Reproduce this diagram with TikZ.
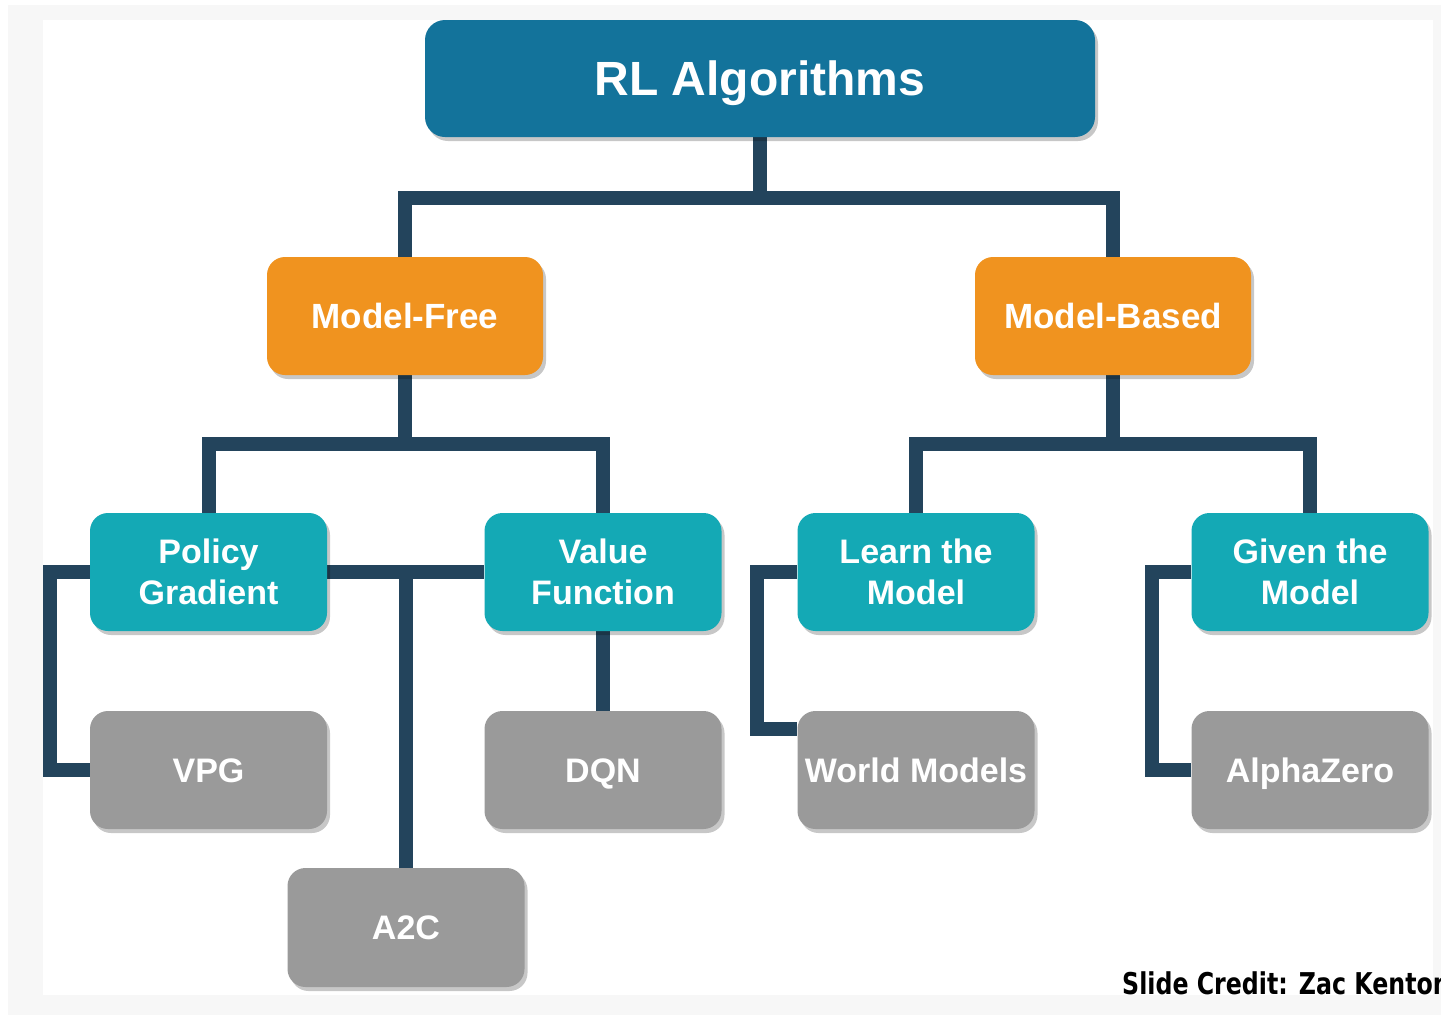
\documentclass[tikz,border=0pt]{standalone}
\usepackage{fontspec}
\setmainfont{Liberation Sans}
\newfontfamily\creditfont{DejaVu Sans}
\usetikzlibrary{shadows}
\definecolor{rootblue}{HTML}{13739B}
\definecolor{mforange}{HTML}{F0931F}
\definecolor{subteal}{HTML}{14A9B5}
\definecolor{leafgrey}{HTML}{9A9A9A}
\definecolor{linkcol}{HTML}{23445C}
\definecolor{framegrey}{HTML}{F7F7F7}
\pgfdeclarelayer{frame}
\pgfdeclarelayer{links}
\pgfsetlayers{frame,links,main}
\tikzset{
  box/.style={rounded corners=18pt, text=white, align=center,
    font=\bfseries\fontsize{34}{41}\selectfont, inner sep=0pt,
    drop shadow={shadow xshift=3pt, shadow yshift=-4pt, fill=black, opacity=0.22}},
  rootbox/.style={box, fill=rootblue, minimum width=670pt, minimum height=117pt,
    rounded corners=20pt, font=\bfseries\fontsize{48}{56}\selectfont,
    text height=34.4pt, text depth=0pt},
  familybox/.style={box, fill=mforange, minimum width=276pt, minimum height=118pt,
    font=\bfseries\fontsize{35}{41}\selectfont, text height=25pt, text depth=0pt},
  classbox/.style={box, fill=subteal, minimum width=237pt, minimum height=118pt},
  leafbox/.style={box, fill=leafgrey, minimum width=237pt, minimum height=118pt,
    text height=24.4pt, text depth=0pt},
  link/.style={draw=linkcol, line width=14pt, line join=miter}
}
\begin{document}
\begin{tikzpicture}[x=1pt, y=-1pt]
  \useasboundingbox (0,0) rectangle (1441,1015);
  % page and frame
  \begin{pgfonlayer}{frame}
    \fill[white] (0,0) rectangle (1441,1015);
    \fill[framegrey] (8,5) rectangle (1441,1015);
    \fill[white] (43,20) rectangle (1433,995);
  \end{pgfonlayer}

  % boxes
  \node[rootbox]   (root) at (760,78.5) {RL Algorithms};
  \node[familybox] (mf)   at (405,316)  {Model-Free};
  \node[familybox] (mb)   at (1113,316) {Model-Based};
  \node[classbox]  (pg)   at (208.5,572) {Policy\\Gradient};
  \node[classbox]  (vf)   at (603,572)  {Value\\Function};
  \node[classbox]  (lm)   at (916,572)  {Learn the\\Model};
  \node[classbox]  (gm)   at (1310,572) {Given the\\Model};
  \node[leafbox]   (vpg)  at (208.5,770) {VPG};
  \node[leafbox]   (dqn)  at (603,770)  {DQN};
  \node[leafbox]   (wm)   at (916,770)  {World Models};
  \node[leafbox]   (az)   at (1310,770) {AlphaZero};
  \node[leafbox, minimum height=119pt] (a2c) at (406,927.5) {A2C};

  % junction points of the tree
  \coordinate (jroot) at (760,198);
  \coordinate (jmf)   at (405,444);
  \coordinate (jmb)   at (1113,444);
  \coordinate (lpg)   at (50,0);
  \coordinate (llm)   at (757,729);
  \coordinate (lgm)   at (1152,0);

  \begin{pgfonlayer}{links}
    \draw[link] (root.south) -- (jroot);
    \draw[link] (mf.north) |- (jroot) -| (mb.north);
    \draw[link] (mf.south) -- (jmf);
    \draw[link] (pg.north) |- (jmf) -| (vf.north);
    \draw[link] (mb.south) -- (jmb);
    \draw[link] (lm.north) |- (jmb) -| (gm.north);
    \draw[link] (pg.west) -| (lpg |- vpg.west) -- (vpg.west);
    \draw[link] (pg.east) -- (vf.west);
    \draw[link] (pg.east -| a2c.north) -- (a2c.north);
    \draw[link] (vf.south) -- (dqn.north);
    \draw[link] (lm.west) -| (llm) -- (llm -| wm.west);
    \draw[link] (gm.west) -| (lgm |- az.west) -- (az.west);
  \end{pgfonlayer}

  % credit line
  \node[anchor=base west, inner sep=0pt, text=black] (credit) at (1122,994)
    {\scalebox{0.79}[1]{\creditfont\bfseries\fontsize{30}{34}\selectfont Slide Credit: Zac Kenton}};
\end{tikzpicture}
\end{document}
